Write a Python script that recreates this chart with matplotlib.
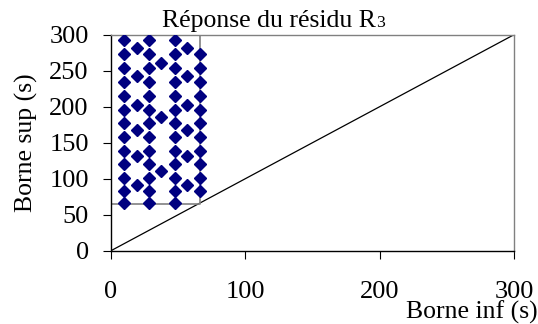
import matplotlib
matplotlib.use("Agg")
import matplotlib.pyplot as plt

# ---- data ----
col_x = [10, 19, 28.5, 37.5, 47.5, 56.5, 66]
rows_full = [66, 83, 101, 120, 139, 158, 177, 196, 215, 234, 254, 273, 292]
rows_col7 = [83, 101, 120, 139, 158, 177, 196, 215, 234, 254, 273]
rows_half = [91, 131, 168, 202, 242, 282]
rows_quarter = [111, 186, 260]
col_rows = [rows_full, rows_half, rows_full, rows_quarter, rows_full, rows_half, rows_col7]

rect_x = [0, 66, 66]
rect_y = [65, 65, 300]
diag_x = [0, 300]
diag_y = [0, 300]

x_ticks = [0, 100, 200, 300]
y_ticks = [0, 50, 100, 150, 200, 250, 300]

title_main = "Réponse du résidu R"
title_sub = "3"
xlabel = "Borne inf (s)"
ylabel = "Borne sup (s)"

FONT = "Liberation Serif"
FS_TICK = 19
FS_LAB = 18.5

fig = plt.figure(figsize=(5.38, 3.24), dpi=100)
ax = fig.add_axes([111/538, 1-250.7/324, (514-111)/538, (250.7-34.7)/324])

pts_x, pts_y = [], []
for x, ys in zip(col_x, col_rows):
    for y in ys:
        pts_x.append(x)
        pts_y.append(y)

ax.plot(diag_x, diag_y, color="black", lw=0.9, zorder=2)
ax.plot(rect_x, rect_y, color="#808080", lw=1.2, zorder=2)
ax.plot(pts_x, pts_y, linestyle="none", marker="D", ms=6.0,
        color="#000080", mec="#000080", zorder=3)

ax.set_xlim(0, 300)
ax.set_ylim(0, 300)
ax.set_xticks(x_ticks)
ax.set_yticks(y_ticks)
ax.set_xticklabels([str(v) for v in x_ticks], fontfamily=FONT, fontsize=FS_TICK)
ax.set_yticklabels([str(v) for v in y_ticks], fontfamily=FONT, fontsize=FS_TICK)
ax.tick_params(axis="x", direction="out", length=6, width=0.8, pad=15.5)
ax.tick_params(axis="y", direction="out", length=6, width=0.8, pad=10)

for s in ["left", "bottom"]:
    ax.spines[s].set_color("black")
    ax.spines[s].set_linewidth(1.0)
for s in ["top", "right"]:
    ax.spines[s].set_color("#808080")
    ax.spines[s].set_linewidth(1.0)

fig.text(376/538, 1-27/324, title_main, ha="right", va="baseline",
         fontfamily=FONT, fontsize=FS_LAB)
fig.text(376/538, 1-27/324, title_sub, ha="left", va="baseline",
         fontfamily=FONT, fontsize=FS_LAB*0.68)

fig.text(472/538, 1-319/324, xlabel, ha="center", va="baseline",
         fontfamily=FONT, fontsize=FS_LAB)
fig.text(26/538, 1-142.7/324, ylabel, ha="center", va="center",
         rotation=90, fontfamily=FONT, fontsize=FS_LAB)

fig.savefig("out.png", dpi=100)
